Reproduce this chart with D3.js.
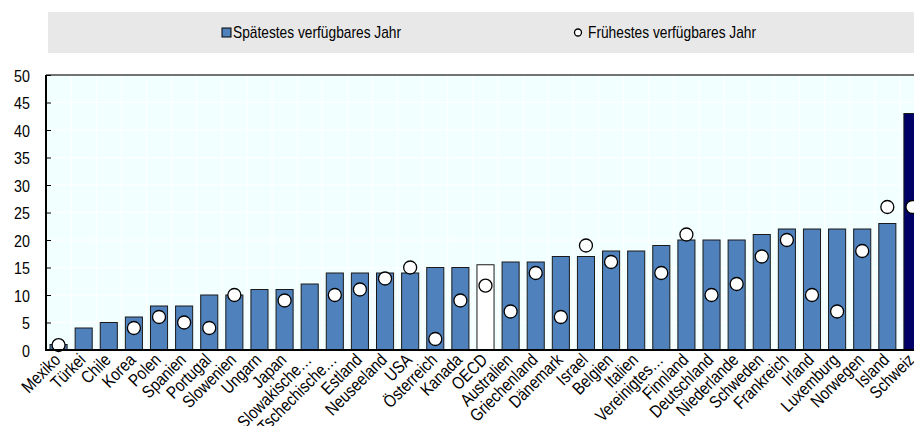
<!DOCTYPE html>
<html><head><meta charset="utf-8">
<script src="https://cdn.jsdelivr.net/npm/d3@7/dist/d3.min.js"></script>
<style>
html,body{margin:0;padding:0;background:#fff;overflow:hidden}
svg{display:block}
text{font-family:"Liberation Sans",Arial,sans-serif;fill:#000}
</style></head>
<body>
<script>
const countries = ["Mexiko","Türkei","Chile","Korea","Polen","Spanien","Portugal","Slowenien","Ungarn","Japan","Slowakische…","Tschechische…","Estland","Neuseeland","USA","Österreich","Kanada","OECD","Australien","Griechenland","Dänemark","Israel","Belgien","Italien","Vereinigtes…","Finnland","Deutschland","Niederlande","Schweden","Frankreich","Irland","Luxemburg","Norwegen","Island","Schweiz"];
const latest = [1,4,5,6,8,8,10,10,11,11,12,14,14,14,14,15,15,15.5,16,16,17,17,18,18,19,20,20,20,21,22,22,22,22,23,43];
const earliest = [0.9,null,null,4,6,5,4,10,null,9,null,10,11,13,15,2,9,11.7,7,14,6,19,16,null,14,21,10,12,17,20,10,7,18,26,26];
const yTicks = [0,5,10,15,20,25,30,35,40,45,50];
const legendLabels = ["Spätestes verfügbares Jahr","Frühestes verfügbares Jahr"];

const W = 914, H = 426;
const pLeft = 46, pTop = 75, pBottom = 350, rightExt = 925;
const NARROW = 0.84;
const svg = d3.select("body").append("svg").attr("width", W).attr("height", H);

// legend band
svg.append("rect").attr("x",48).attr("y",12).attr("width",W-48).attr("height",41).attr("fill","#E8E8E8");
svg.append("rect").attr("x",222).attr("y",28).attr("width",9).attr("height",9).attr("fill","#4F81BD").attr("stroke","#000").attr("stroke-width",1);
svg.append("text").attr("transform","translate(233,38) scale(0.86,1)").attr("font-size",16).text(legendLabels[0]);
svg.append("circle").attr("cx",578).attr("cy",32.5).attr("r",3.5).attr("fill","#fff").attr("stroke","#000").attr("stroke-width",1.3);
svg.append("text").attr("transform","translate(588,38) scale(0.86,1)").attr("font-size",16).text(legendLabels[1]);

const x = d3.scaleBand().domain(countries).range([pLeft, rightExt]).paddingInner(0.32).paddingOuter(0.16);
const y = d3.scaleLinear().domain([0,50]).range([pBottom, pTop]);

// plot background
svg.append("rect").attr("x",pLeft).attr("y",pTop).attr("width",W-pLeft).attr("height",pBottom-pTop).attr("fill","#F2FFFF");
// grid
const step = x.step();
const gridG = svg.append("g");
gridG.selectAll("line.h").data(yTicks.slice(1,-1)).enter().append("line")
  .attr("x1",pLeft).attr("x2",W).attr("y1",d=>y(d)).attr("y2",d=>y(d)).attr("stroke","#FFFFFF").attr("stroke-width",1);
gridG.selectAll("line.v").data(countries.slice(1)).enter().append("line")
  .attr("x1",d=>x(d)-x.paddingInner()*step/2).attr("x2",d=>x(d)-x.paddingInner()*step/2)
  .attr("y1",pTop).attr("y2",pBottom).attr("stroke","#FFFFFF").attr("stroke-width",1);

// bars
svg.append("g").selectAll("rect").data(countries).enter().append("rect")
  .attr("x",d=>x(d)).attr("width",x.bandwidth())
  .attr("y",(d,i)=>y(latest[i])).attr("height",(d,i)=>pBottom-y(latest[i]))
  .attr("fill",d=>d==="OECD"?"#FFFFFF":(d==="Schweiz"?"#000066":"#4F81BD"))
  .attr("stroke","#1a1a1a").attr("stroke-width",1);

// dots
svg.append("g").selectAll("circle").data(countries.filter((d,i)=>earliest[i]!==null)).enter().append("circle")
  .attr("cx",d=>x(d)+x.bandwidth()/2).attr("cy",d=>y(earliest[countries.indexOf(d)]))
  .attr("r",6.5).attr("fill","#fff").attr("stroke","#000").attr("stroke-width",1.3);

// top border
svg.append("line").attr("x1",pLeft).attr("x2",W).attr("y1",pTop).attr("y2",pTop).attr("stroke","#444").attr("stroke-width",1.5);

// y axis
const yAxis = d3.axisLeft(y).tickValues(yTicks).tickSize(-5).tickPadding(0).tickFormat(d3.format("d"));
const ya = svg.append("g").attr("transform",`translate(${pLeft},0)`).call(yAxis);
ya.select(".domain").remove();
ya.selectAll(".tick line").attr("stroke","#000");
ya.selectAll(".tick text")
  .attr("x",null).attr("dy",null)
  .attr("transform",`translate(-16,6) scale(${NARROW},1)`)
  .attr("font-size",17).attr("fill","#000").style("font-family",'"Liberation Sans",Arial,sans-serif');
svg.append("line").attr("x1",pLeft).attr("x2",pLeft).attr("y1",pTop).attr("y2",pBottom+1).attr("stroke","#000").attr("stroke-width",2);
svg.append("line").attr("x1",pLeft-1).attr("x2",W).attr("y1",pBottom).attr("y2",pBottom).attr("stroke","#000").attr("stroke-width",2);

// x labels
svg.append("g").selectAll("text").data(countries).enter().append("text")
  .attr("transform",d=>`translate(${x(d)+x.bandwidth()/2+3},${pBottom+11}) rotate(-45) scale(${NARROW},1)`)
  .attr("text-anchor","end").attr("font-size",17.5).text(d=>d);
</script>
</body></html>
